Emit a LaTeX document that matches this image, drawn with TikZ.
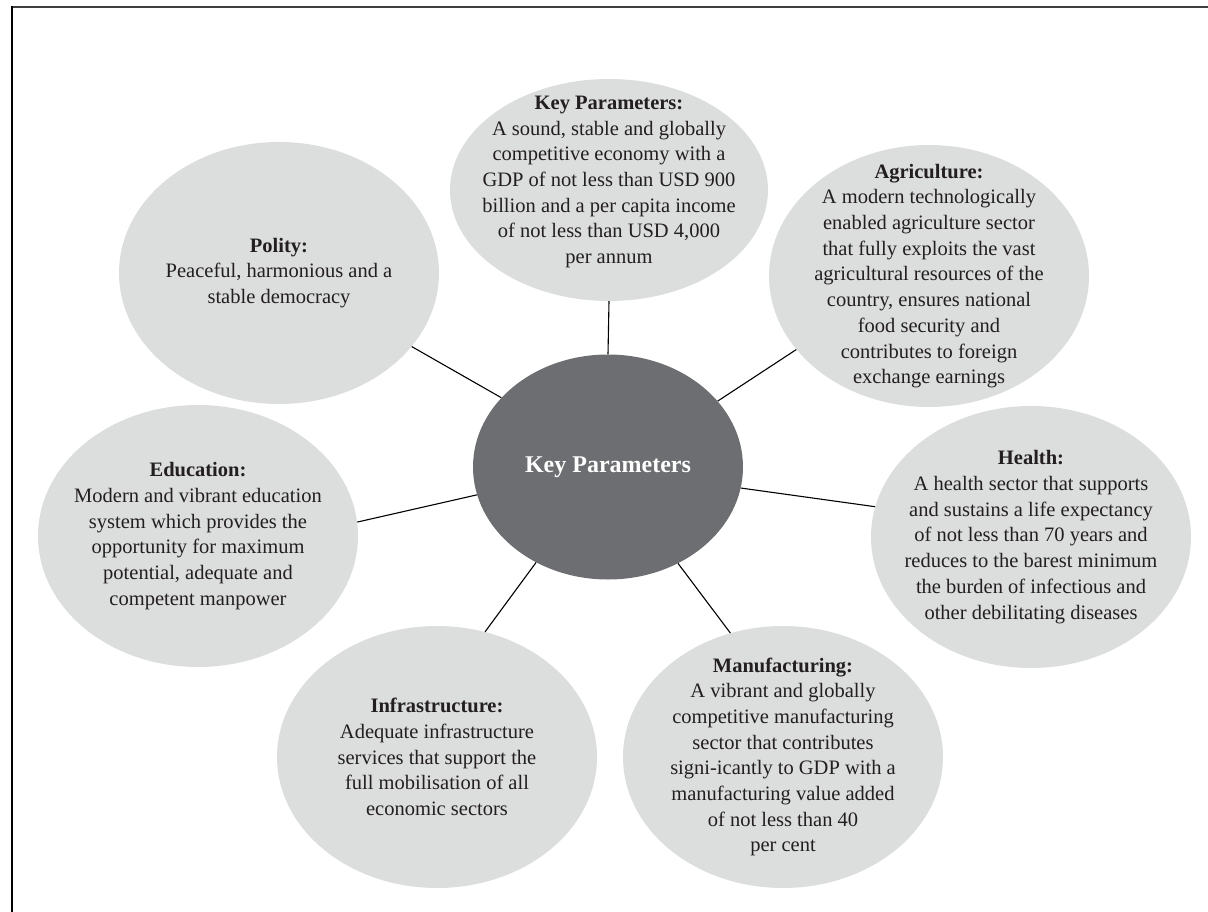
\documentclass[tikz,border=0pt]{standalone}
\usepackage{fontspec}
\setmainfont{Liberation Serif}
\usetikzlibrary{shapes.geometric}
\definecolor{bubble}{HTML}{DCDDDD}
\definecolor{hub}{HTML}{6D6E71}
\definecolor{ink}{HTML}{231F20}
\tikzset{
  outer/.style={ellipse, fill=bubble, draw=none, minimum width=320pt, minimum height=262pt, inner sep=0pt},
  hubshape/.style={ellipse, fill=hub, draw=none, minimum width=270pt, minimum height=225pt, inner sep=0pt},
  btext/.style={align=center, text=ink, inner sep=0pt, font=\fontsize{20.5}{25.7}\selectfont},
  link/.style={draw=black, line width=1.1pt}
}
\begin{document}
\begin{tikzpicture}[x=1pt,y=-1pt]
\useasboundingbox (0,0) rectangle (1208,912);
% frame
\draw[line width=2pt, draw=black!75] (11,7) -- (1208,7);
\draw[line width=2pt, draw=black] (12,6) -- (12,912);

% bubbles
\node[outer, minimum width=318pt, minimum height=222pt] (top) at (609,190) {};
\node[outer] (pol) at (279,273) {};
\node[outer] (agr) at (929,276) {};
\node[outer] (edu) at (198,536) {};
\node[outer] (hea) at (1031,537) {};
\node[outer] (inf) at (437,757) {};
\node[outer] (man) at (783,757) {};
\node[hubshape] (hub) at (608,467) {};

% connectors
\draw[link] (hub.90) -- (top.270);
\draw[link] (hub.147.8) -- (pol.331.7);
\draw[link] (hub.31.6) -- (agr.209.8);
\draw[link] (hub.192.9) -- (edu.5);
\draw[link] (hub.351) -- (hea.169.5);
\draw[link] (hub.233.1) -- (inf.69.4);
\draw[link] (hub.306.2) -- (man.113.1);

% texts
\node[btext] (ttop) at (609,182) {\textbf{Key Parameters:}\\A sound, stable and globally\\competitive economy with a\\GDP of not less than USD 900\\billion and a per capita income\\of not less than USD 4,000\\per annum};
\node[btext] (tpol) at (pol) {\textbf{Polity:}\\Peaceful, harmonious and a\\stable democracy};
\node[btext] (tagr) at (agr) {\textbf{Agriculture:}\\A modern technologically\\enabled agriculture sector\\that fully exploits the vast\\agricultural resources of the\\country, ensures national\\food security and\\contributes to foreign\\exchange earnings};
\node[btext] (tedu) at (edu) {\textbf{Education:}\\Modern and vibrant education\\system which provides the\\opportunity for maximum\\potential, adequate and\\competent manpower};
\node[btext] (thea) at (hea) {\textbf{Health:}\\A health sector that supports\\and sustains a life expectancy\\of not less than 70 years and\\reduces to the barest minimum\\the burden of infectious and\\other debilitating diseases};
\node[btext] (tinf) at (inf) {\textbf{Infrastructure:}\\Adequate infrastructure\\services that support the\\full mobilisation of all\\economic sectors};
\node[btext] (tman) at (man) {\textbf{Manufacturing:}\\A vibrant and globally\\competitive manufacturing\\sector that contributes\\signi-icantly to GDP with a\\manufacturing value added\\of not less than 40\\per cent};
\node[text=white, font=\fontsize{24}{28}\selectfont\bfseries, inner sep=0pt] (thub) at (hub) {Key Parameters};
\end{tikzpicture}
\end{document}
